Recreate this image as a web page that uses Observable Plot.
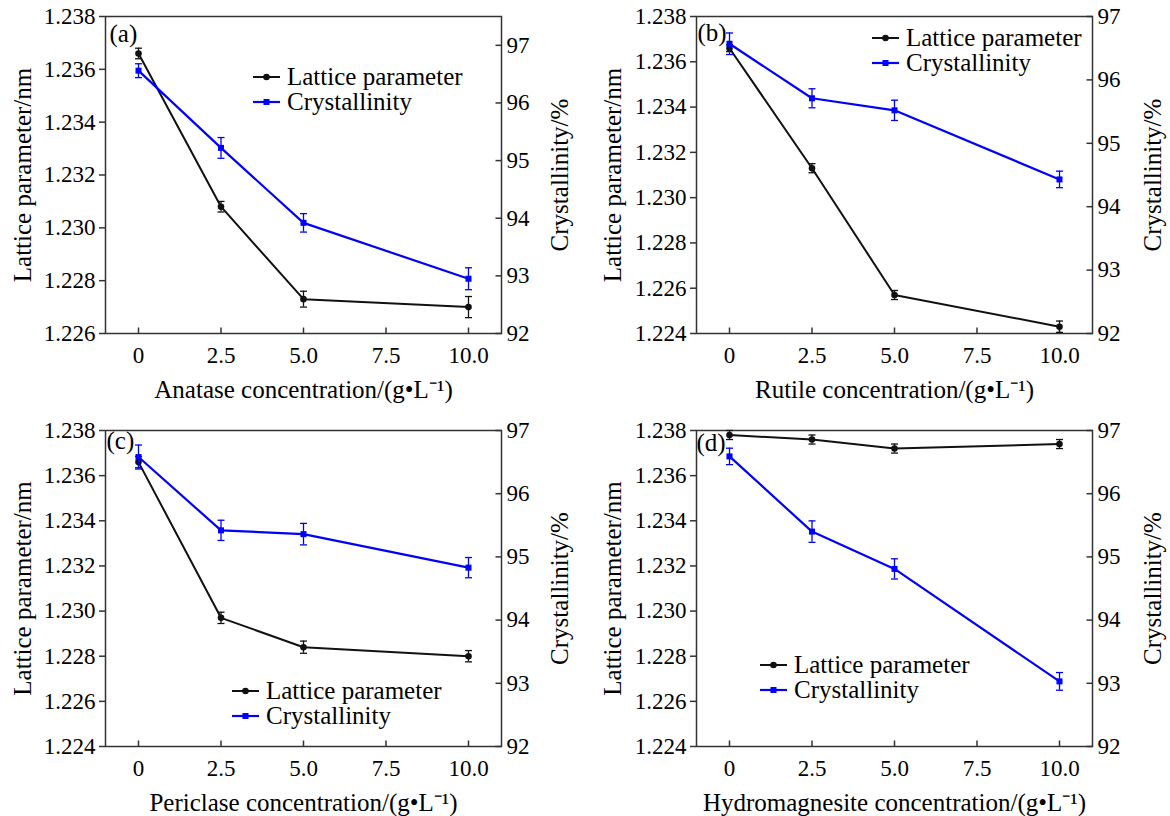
<!DOCTYPE html>
<html><head><meta charset="utf-8">
<script src="https://cdn.jsdelivr.net/npm/d3@7"></script>
<script src="https://cdn.jsdelivr.net/npm/@observablehq/plot@0.6"></script>
<style>
body{margin:0;background:#fff;}
#grid{position:relative;width:1170px;height:816px;overflow:hidden;}
.cell{position:absolute;width:585px;height:408px;}
.cell > svg{position:absolute;left:0;top:0;}
#grid svg, #grid svg text, #grid svg g{font-family:'Liberation Serif','Times New Roman',serif !important;}
.legend{position:absolute;font-family:'Liberation Serif','Times New Roman',serif;font-size:25px;color:#000;}
.legend .row{display:flex;align-items:center;height:25px;white-space:nowrap;}
.legend .row svg{margin-right:7px;flex:none;}
</style></head><body><div id="grid"></div>
<script>
// ---- data ----
const conc = [0, 2.5, 5, 10];
const xTicks = [0, 2.5, 5, 7.5, 10];
const xTickLabels = ["0", "2.5", "5.0", "7.5", "10.0"];
const latTicksA = [1.226, 1.228, 1.230, 1.232, 1.234, 1.236, 1.238];
const latTicksBCD = [1.224, 1.226, 1.228, 1.230, 1.232, 1.234, 1.236, 1.238];
const cryTicks = [92, 93, 94, 95, 96, 97];
const seriesNames = ["Lattice parameter", "Crystallinity"];
const panelTags = ["(a)", "(b)", "(c)", "(d)"];
const xTitles = ["Anatase concentration/(g\u2022L\u207B\u00B9)", "Rutile concentration/(g\u2022L\u207B\u00B9)",
                 "Periclase concentration/(g\u2022L\u207B\u00B9)", "Hydromagnesite concentration/(g\u2022L\u207B\u00B9)"];
const yTitleLeft = "Lattice parameter/nm";
const yTitleRight = "Crystallinity/%";

const latticeA = [1.2366, 1.2308, 1.2273, 1.2270];
const latticeErrA = [0.0002, 0.0002, 0.0003, 0.0004];
const crystA = [96.56, 95.22, 93.92, 92.95];
const crystErrA = [0.12, 0.18, 0.16, 0.19];

const latticeB = [1.2366, 1.2313, 1.2257, 1.2243];
const latticeErrB = [0.00015, 0.0002, 0.0002, 0.00025];
const crystB = [96.57, 95.71, 95.52, 94.43];
const crystErrB = [0.17, 0.15, 0.16, 0.13];

const latticeC = [1.2366, 1.2297, 1.2284, 1.2280];
const latticeErrC = [0.00025, 0.00025, 0.00027, 0.00025];
const crystC = [96.58, 95.42, 95.36, 94.83];
const crystErrC = [0.19, 0.16, 0.17, 0.16];

const latticeD = [1.2378, 1.2376, 1.2372, 1.2374];
const latticeErrD = [0.0002, 0.0002, 0.0002, 0.0002];
const crystD = [96.59, 95.40, 94.81, 93.03];
const crystErrD = [0.13, 0.17, 0.16, 0.14];

// ---- layout / styles ----
const FONT = "'Liberation Serif','Times New Roman',serif";
const BLACK = "#111";
const BLUE = "#0000ff";
const FRAME = "#333";
const capSymbol = {draw(ctx) { ctx.moveTo(-3.5, 0); ctx.lineTo(3.5, 0); }};
const tickUp = {draw(ctx) { ctx.moveTo(0, 0); ctx.lineTo(0, -6); }};
const tickLeft = {draw(ctx) { ctx.moveTo(0, 0); ctx.lineTo(-6, 0); }};

const panels = [
  {left: 0, top: 0, ml: 105, mr: 84, mt: 16, mb: 75, lat: latticeA, latErr: latticeErrA, cry: crystA, cryErr: crystErrA,
   latDomain: [1.226, 1.238], latTicks: latTicksA, cryDomain: [92, 97.5], ltdx: -83, rtdx: 58, tagDx: 4, tagDy: 17,
   legend: {x: 253, y: 64}},
  {left: 585, top: 0, ml: 111, mr: 78, mt: 16, mb: 75, lat: latticeB, latErr: latticeErrB, cry: crystB, cryErr: crystErrB,
   latDomain: [1.224, 1.238], latTicks: latTicksBCD, cryDomain: [92, 97], ltdx: -84, rtdx: 60, tagDx: 1, tagDy: 16,
   legend: {x: 287, y: 25}},
  {left: 0, top: 408, ml: 105, mr: 84, mt: 22, mb: 70, lat: latticeC, latErr: latticeErrC, cry: crystC, cryErr: crystErrC,
   latDomain: [1.224, 1.238], latTicks: latTicksBCD, cryDomain: [92, 97], ltdx: -83, rtdx: 58, tagDx: 1, tagDy: 10,
   legend: {x: 232, y: 270}},
  {left: 585, top: 408, ml: 111, mr: 78, mt: 22, mb: 70, lat: latticeD, latErr: latticeErrD, cry: crystD, cryErr: crystErrD,
   latDomain: [1.224, 1.238], latTicks: latTicksBCD, cryDomain: [92, 97], ltdx: -84, rtdx: 60, tagDx: 0, tagDy: 12,
   legend: {x: 175, y: 244}}
];

const grid = document.getElementById("grid");

panels.forEach((cfg, p) => {
  const cell = document.createElement("div");
  cell.className = "cell";
  cell.style.left = cfg.left + "px";
  cell.style.top = cfg.top + "px";
  grid.appendChild(cell);

  const rowsL = conc.map((x, i) => ({x, v: cfg.lat[i], e: cfg.latErr[i]}));
  const rowsC = conc.map((x, i) => ({x, v: cfg.cry[i], e: cfg.cryErr[i]}));
  const common = {
    width: 585, height: 408,
    marginLeft: cfg.ml, marginRight: cfg.mr, marginTop: cfg.mt, marginBottom: cfg.mb,
    style: {fontFamily: FONT, fontSize: "23px", color: "#000", background: "transparent", overflow: "visible"}
  };

  const base = Plot.plot({
    ...common,
    x: {domain: [-1, 11]},
    y: {domain: cfg.latDomain},
    marks: [
      Plot.frame({stroke: FRAME, strokeWidth: 1.5}),
      Plot.axisY(cfg.latTicks, {anchor: "left", tickSize: 6, tickPadding: 4, tickFormat: d3.format(".3f"),
        fontSize: 23, fontFamily: FONT, label: null, stroke: FRAME, strokeWidth: 1.5}),
      Plot.axisX(xTicks, {anchor: "bottom", tickSize: 0, tickPadding: 13,
        tickFormat: d => xTickLabels[xTicks.indexOf(d)], fontSize: 23, fontFamily: FONT, label: null}),
      Plot.dot(xTicks, {x: d => d, frameAnchor: "bottom", symbol: tickUp, stroke: FRAME, strokeWidth: 1.5, fill: "none"}),
      Plot.text([xTitles[p]], {text: d => d, frameAnchor: "bottom", dy: 56, lineAnchor: "middle", textAnchor: "middle", fontSize: 25, fontFamily: FONT}),
      Plot.text([yTitleLeft], {text: d => d, frameAnchor: "left", rotate: -90, dx: cfg.ltdx, lineAnchor: "middle", textAnchor: "middle", fontSize: 25, fontFamily: FONT}),
      Plot.text([panelTags[p]], {text: d => d, frameAnchor: "top-left", textAnchor: "start", lineAnchor: "middle",
        dx: cfg.tagDx, dy: cfg.tagDy, fontSize: 25, fontFamily: FONT}),
      Plot.ruleX(rowsL, {x: "x", y1: d => d.v - d.e, y2: d => d.v + d.e, stroke: BLACK, strokeWidth: 1.3}),
      Plot.dot(rowsL, {x: "x", y: d => d.v - d.e, symbol: capSymbol, stroke: BLACK, strokeWidth: 1.3, fill: "none"}),
      Plot.dot(rowsL, {x: "x", y: d => d.v + d.e, symbol: capSymbol, stroke: BLACK, strokeWidth: 1.3, fill: "none"}),
      Plot.line(rowsL, {x: "x", y: "v", stroke: BLACK, strokeWidth: 2}),
      Plot.dot(rowsL, {x: "x", y: "v", r: 3.3, fill: BLACK, stroke: "none"})
    ]
  });

  const over = Plot.plot({
    ...common,
    x: {domain: [-1, 11], axis: null},
    y: {domain: cfg.cryDomain},
    marks: [
      Plot.axisY(cryTicks, {anchor: "right", tickSize: 0, tickPadding: 5, tickFormat: d3.format("d"), fontSize: 23, fontFamily: FONT, label: null}),
      Plot.dot(cryTicks, {y: d => d, frameAnchor: "right", symbol: tickLeft, stroke: FRAME, strokeWidth: 1.5, fill: "none"}),
      Plot.text([yTitleRight], {text: d => d, frameAnchor: "right", rotate: -90, dx: cfg.rtdx, lineAnchor: "middle", textAnchor: "middle", fontSize: 25, fontFamily: FONT}),
      Plot.ruleX(rowsC, {x: "x", y1: d => d.v - d.e, y2: d => d.v + d.e, stroke: BLUE, strokeWidth: 1.3}),
      Plot.dot(rowsC, {x: "x", y: d => d.v - d.e, symbol: capSymbol, stroke: BLUE, strokeWidth: 1.3, fill: "none"}),
      Plot.dot(rowsC, {x: "x", y: d => d.v + d.e, symbol: capSymbol, stroke: BLUE, strokeWidth: 1.3, fill: "none"}),
      Plot.line(rowsC, {x: "x", y: "v", stroke: BLUE, strokeWidth: 2.2}),
      Plot.dot(rowsC, {x: "x", y: "v", r: 3.4, symbol: "square", fill: BLUE, stroke: "none"})
    ]
  });

  cell.appendChild(base);
  cell.appendChild(over);

  // legend
  const lg = document.createElement("div");
  lg.className = "legend";
  lg.style.left = cfg.legend.x + "px";
  lg.style.top = cfg.legend.y + "px";
  const sw = [
    `<svg width="27" height="12"><line x1="0" x2="27" y1="6" y2="6" stroke="${BLACK}" stroke-width="2"/><circle cx="13.5" cy="6" r="3.3" fill="${BLACK}"/></svg>`,
    `<svg width="27" height="12"><line x1="0" x2="27" y1="6" y2="6" stroke="${BLUE}" stroke-width="2.2"/><rect x="10.5" y="3" width="6" height="6" fill="${BLUE}"/></svg>`
  ];
  lg.innerHTML = seriesNames.map((n, i) => `<div class="row">${sw[i]}<span>${n}</span></div>`).join("");
  cell.appendChild(lg);
});
</script>
</body></html>
